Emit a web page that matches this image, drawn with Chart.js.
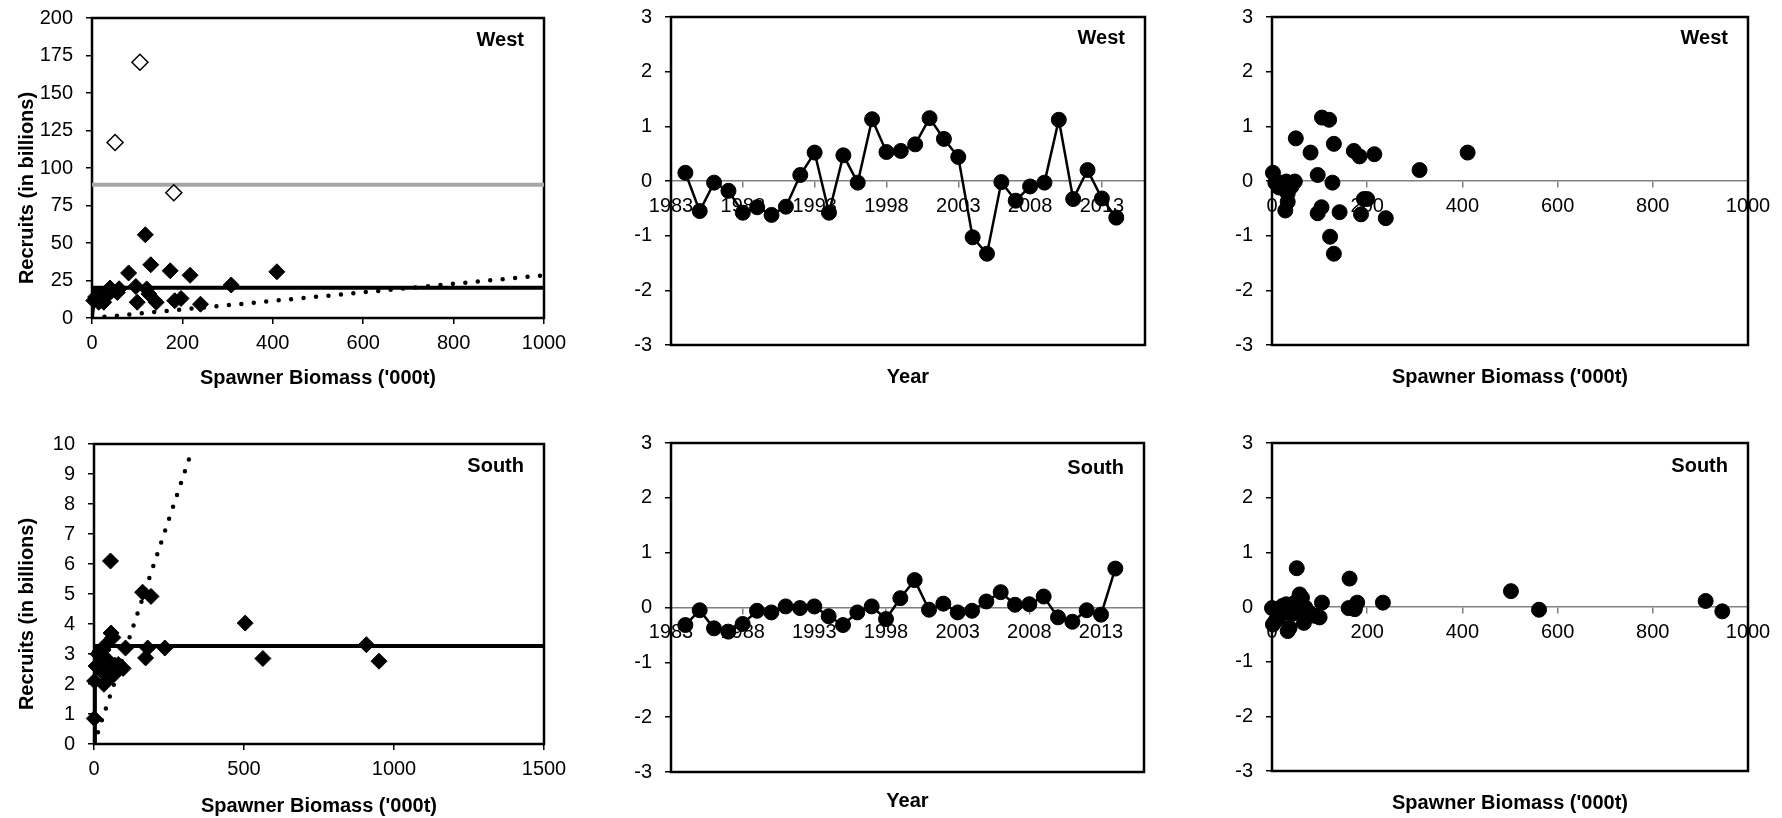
<!DOCTYPE html>
<html lang="en">
<head>
<meta charset="UTF-8">
<title>Stock-recruitment: West and South</title>
<script src="https://cdn.jsdelivr.net/npm/chart.js"></script>
<style>
  body { margin: 0; background: #fff; }
  #page { position: relative; width: 1782px; height: 818px; }
  canvas { position: absolute; }
</style>
</head>
<body>
<div id="page">
  <canvas id="srWest"  width="600" height="409" style="left:0px;top:0px"></canvas>
  <canvas id="tsWest"  width="600" height="409" style="left:600px;top:0px"></canvas>
  <canvas id="rsWest"  width="582" height="409" style="left:1200px;top:0px"></canvas>
  <canvas id="srSouth" width="600" height="409" style="left:0px;top:409px"></canvas>
  <canvas id="tsSouth" width="600" height="409" style="left:600px;top:409px"></canvas>
  <canvas id="rsSouth" width="582" height="409" style="left:1200px;top:409px"></canvas>
</div>

<script>
// ---- data ----
// West: recruits vs spawner biomass
const westSsb = [4, 8, 11, 15, 18, 22, 26, 30, 33, 40, 44, 56, 60, 81, 97, 100, 118, 121, 126, 130, 142, 173, 183, 197, 217, 240, 308, 409];
const westRec = [11.6, 14, 13.8, 10.5, 12, 16, 10.5, 14, 17, 20, 18.3, 17, 19.5, 30, 21, 10.5, 55.5, 19.4, 16, 35.5, 10.5, 31.5, 11.5, 13, 28.5, 9.2, 22, 30.8];
const westSsbOut = [51, 106, 181];
const westRecOut = [117, 170.5, 83.5];
const westStickX = [0, 6, 1000];
const westStickY = [0, 20.2, 20.2];
const westMaxX = [0, 1000];
const westMaxY = [88.8, 88.8];
const westLinX = [0, 1000];
const westLinY = [0, 28.5];

// South: recruits vs spawner biomass
const southSsb = [1, 2, 7, 13, 19, 21, 27, 30, 33, 39, 41, 45, 51, 55, 57, 63, 67, 69, 81, 97, 105, 162, 172, 179, 190, 236, 504, 563, 908, 950];
const southRec = [0.85, 2.1, 2.6, 3.0, 2.65, 3.1, 2.43, 3.13, 1.99, 3.3, 2.41, 2.8, 2.2, 6.1, 3.7, 3.55, 2.32, 2.63, 2.65, 2.52, 3.2, 5.06, 2.87, 3.2, 4.92, 3.2, 4.03, 2.85, 3.31, 2.76];
const southStickX = [0, 3, 1500];
const southStickY = [0, 3.27, 3.27];
const southLinX = [0, 325];
const southLinY = [0, 9.75];

// residuals by year
const years = [1984, 1985, 1986, 1987, 1988, 1989, 1990, 1991, 1992, 1993, 1994, 1995, 1996, 1997, 1998, 1999,
               2000, 2001, 2002, 2003, 2004, 2005, 2006, 2007, 2008, 2009, 2010, 2011, 2012, 2013, 2014];
const yearTicks = [1983, 1988, 1993, 1998, 2003, 2008, 2013];
const westResid = [0.15, -0.55, -0.03, -0.18, -0.58, -0.48, -0.62, -0.47, 0.11, 0.52, -0.58, 0.47, -0.03, 1.13, 0.53, 0.55,
                   0.67, 1.15, 0.77, 0.44, -1.03, -1.33, -0.02, -0.36, -0.10, -0.03, 1.12, -0.33, 0.20, -0.32, -0.67];
const southResid = [-0.32, -0.05, -0.38, -0.44, -0.30, -0.06, -0.09, 0.02, -0.01, 0.02, -0.16, -0.32, -0.09, 0.02, -0.21, 0.17,
                    0.50, -0.04, 0.07, -0.09, -0.06, 0.11, 0.28, 0.05, 0.06, 0.20, -0.18, -0.26, -0.05, -0.13, 0.71];

// residuals vs spawner biomass
const westSsbR = [2, 7, 15, 18, 28, 30, 33, 33, 41, 48, 50, 81, 96, 96, 104, 105, 120, 122, 127, 130, 130, 142, 172, 184, 187, 193, 200, 215, 239, 310, 411];
const westResR = [0.15, -0.03, -0.12, -0.03, -0.54, -0.01, -0.23, -0.38, -0.10, -0.01, 0.78, 0.52, 0.11, -0.59, -0.48, 1.16,
                  1.12, -1.02, -0.03, 0.68, -1.33, -0.57, 0.55, 0.45, -0.61, -0.33, -0.33, 0.49, -0.68, 0.20, 0.52];
const southSsbR = [0, 2, 7, 15, 19, 22, 30, 33, 37, 41, 44, 48, 52, 56, 58, 63, 67, 70, 78, 89, 100, 105, 161, 163, 174, 179, 233, 502, 561, 911, 946];
const southResR = [-0.02, -0.32, -0.26, -0.19, -0.04, 0.02, 0.05, -0.44, -0.38, -0.13, -0.01, 0.08, 0.71, -0.07, 0.23, 0.17,
                   -0.29, -0.01, -0.10, -0.16, -0.19, 0.08, -0.02, 0.52, -0.04, 0.08, 0.08, 0.29, -0.05, 0.11, -0.08];

// ---- chart setup ----
const FONT = '"Liberation Sans", Arial, sans-serif';
Chart.defaults.font.family = FONT;
Chart.defaults.font.size = 20;
Chart.defaults.color = '#000';

const pts = (xs, ys) => xs.map((x, i) => ({ x, y: ys[i] }));
const label = v => String(v);
const SB_TITLE = "Spawner Biomass ('000t)";
const REC_TITLE = 'Recruits (in billions)';

// black frame round the plot area, the region tag in the corner,
// and the rotated y title (sits a bit below centre, as in the original)
const boxTag = {
  id: 'boxTag',
  beforeDatasetsDraw(chart) {
    const a = chart.chartArea, ctx = chart.ctx;
    ctx.save();
    ctx.strokeStyle = '#000';
    ctx.lineWidth = 2.5;
    ctx.strokeRect(a.left, a.top, a.right - a.left, a.bottom - a.top);
    ctx.restore();
  },
  afterDraw(chart, args, opts) {
    const a = chart.chartArea, ctx = chart.ctx;
    ctx.save();
    ctx.font = 'bold 20px ' + FONT;
    ctx.fillStyle = '#000';
    ctx.textAlign = 'right';
    ctx.textBaseline = 'middle';
    ctx.fillText(opts.text, a.right - 20, a.top + opts.dy);
    if (opts.yTitle) {
      ctx.translate(27, (a.top + a.bottom) / 2 + 20);
      ctx.rotate(-Math.PI / 2);
      ctx.textAlign = 'center';
      ctx.fillText(opts.yTitle, 0, 0);
    }
    ctx.restore();
  }
};

function yAxis(min, max, step, width) {
  return {
    type: 'linear', position: 'left', min, max,
    ticks: { stepSize: step, padding: 13, callback: label },
    grid: { drawOnChartArea: false, tickLength: 6, color: '#000', lineWidth: 1.5 },
    border: { display: false },
    afterFit: s => { s.width = width; s.paddingTop = 0; s.paddingBottom = 0; }
  };
}

function xBottom(max, step, height, padBottom) {
  return {
    type: 'linear', position: 'bottom', min: 0, max,
    ticks: { stepSize: step, padding: 7, maxRotation: 0, callback: label },
    grid: { drawOnChartArea: false, tickLength: 6, color: '#000', lineWidth: 1.5 },
    border: { display: false },
    title: { display: true, text: SB_TITLE, font: { weight: 'bold' }, padding: { top: 0, bottom: padBottom } },
    afterFit: s => { s.height = height; s.paddingLeft = 0; s.paddingRight = 0; }
  };
}

// x axis that crosses at y = 0 (thin grey line, labels just under it)
function xZero(min, max, step, tickVals) {
  const ax = {
    type: 'linear', position: { y: 0 }, min, max,
    ticks: { stepSize: step, padding: 7, maxRotation: 0, autoSkip: false, callback: label },
    grid: { drawOnChartArea: false, tickLength: 6, color: '#808080', lineWidth: 1.5 },
    border: { display: true, color: '#808080', width: 1.5 },
    afterFit: s => { s.paddingLeft = 0; s.paddingRight = 0; }
  };
  if (tickVals) ax.afterBuildTicks = s => { s.ticks = tickVals.map(v => ({ value: v })); };
  return ax;
}

// empty bottom axis only used to hold the axis title under the frame
function xTitleAxis(text, height, padBottom) {
  return {
    type: 'linear', position: 'bottom', min: 0, max: 1,
    ticks: { display: false }, grid: { display: false }, border: { display: false },
    title: { display: true, text, font: { weight: 'bold' }, padding: { top: 0, bottom: padBottom } },
    afterFit: s => { s.height = height; }
  };
}

function options(padding, scales, tag, dy, yTitle) {
  return {
    responsive: false, animation: false, events: [],
    layout: { padding, autoPadding: false },
    plugins: { legend: { display: false }, tooltip: { enabled: false }, boxTag: { text: tag, dy, yTitle } },
    scales
  };
}

const diamonds = (data, fill) => ({
  data, xAxisID: 'x', pointStyle: 'rectRot', pointRadius: 8,
  backgroundColor: fill, borderColor: '#000', borderWidth: fill === '#000' ? 1 : 1.5, clip: false
});
const solid = (data, color, width) => ({
  data, xAxisID: 'x', showLine: true, pointRadius: 0, borderColor: color, borderWidth: width
});
const dotted = data => ({
  data, xAxisID: 'x', showLine: true, pointRadius: 0, borderColor: '#000', borderWidth: 4.5,
  borderDash: [0, 12.5], borderCapStyle: 'round'
});
const dots = (data, joined) => ({
  data, xAxisID: 'x', showLine: joined, borderColor: '#000', borderWidth: 2.5,
  pointRadius: 7.5, pointBackgroundColor: '#000', pointBorderColor: '#000', pointBorderWidth: 1, clip: false
});

// top-left: West stock-recruitment
new Chart(document.getElementById('srWest'), {
  type: 'scatter',
  data: { datasets: [
    diamonds(pts(westSsb, westRec), '#000'),
    diamonds(pts(westSsbOut, westRecOut), '#fff'),
    solid(pts(westStickX, westStickY), '#000', 4),
    solid(pts(westMaxX, westMaxY), '#a6a6a6', 4),
    dotted(pts(westLinX, westLinY))
  ]},
  options: options({ left: 0, top: 18, right: 56, bottom: 9 }, {
    x: xBottom(1000, 200, 82, 10),
    y: yAxis(0, 200, 25, 92)
  }, 'West', 22, REC_TITLE),
  plugins: [boxTag]
});

// top-middle: West residuals by year
new Chart(document.getElementById('tsWest'), {
  type: 'scatter',
  data: { datasets: [dots(pts(years, westResid), true)] },
  options: options({ left: 0, top: 17, right: 55, bottom: 14 }, {
    x: xZero(1983, 2016, 5, yearTicks),
    xt: xTitleAxis('Year', 50, 6),
    y: yAxis(-3, 3, 1, 71)
  }, 'West', 21),
  plugins: [boxTag]
});

// top-right: West residuals vs spawner biomass
new Chart(document.getElementById('rsWest'), {
  type: 'scatter',
  data: { datasets: [dots(pts(westSsbR, westResR), false)] },
  options: options({ left: 0, top: 17, right: 34, bottom: 14 }, {
    x: xZero(0, 1000, 200),
    xt: xTitleAxis(SB_TITLE, 50, 6),
    y: yAxis(-3, 3, 1, 72)
  }, 'West', 21),
  plugins: [boxTag]
});

// bottom-left: South stock-recruitment
new Chart(document.getElementById('srSouth'), {
  type: 'scatter',
  data: { datasets: [
    diamonds(pts(southSsb, southRec), '#000'),
    solid(pts(southStickX, southStickY), '#000', 4),
    dotted(pts(southLinX, southLinY))
  ]},
  options: options({ left: 0, top: 35, right: 56, bottom: 0 }, {
    x: xBottom(1500, 500, 74, 0),
    y: yAxis(0, 10, 1, 94)
  }, 'South', 22, REC_TITLE),
  plugins: [boxTag]
});

// bottom-middle: South residuals by year
new Chart(document.getElementById('tsSouth'), {
  type: 'scatter',
  data: { datasets: [dots(pts(years, southResid), true)] },
  options: options({ left: 0, top: 34, right: 56, bottom: 0 }, {
    x: xZero(1983, 2016, 5, yearTicks),
    xt: xTitleAxis('Year', 46, 5),
    y: yAxis(-3, 3, 1, 71)
  }, 'South', 25),
  plugins: [boxTag]
});

// bottom-right: South residuals vs spawner biomass
new Chart(document.getElementById('rsSouth'), {
  type: 'scatter',
  data: { datasets: [dots(pts(southSsbR, southResR), false)] },
  options: options({ left: 0, top: 34, right: 34, bottom: 1 }, {
    x: xZero(0, 1000, 200),
    xt: xTitleAxis(SB_TITLE, 46, 2),
    y: yAxis(-3, 3, 1, 72)
  }, 'South', 23),
  plugins: [boxTag]
});
</script>
</body>
</html>
